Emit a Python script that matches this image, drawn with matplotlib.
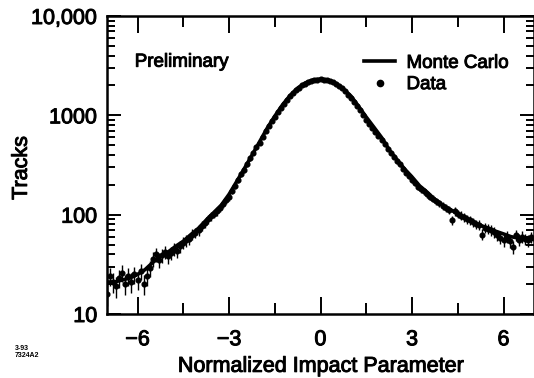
import numpy as np
import matplotlib
matplotlib.use("Agg")
import matplotlib.pyplot as plt
import matplotlib.patheffects as pe
from matplotlib.lines import Line2D
from matplotlib.ticker import FixedLocator, FuncFormatter, LogLocator, NullFormatter

plt.rcParams['font.family'] = ['Liberation Sans', 'DejaVu Sans']

# Monte Carlo curve (every 0.25 in normalized impact parameter)
mc_x = [-7.0, -6.75, -6.5, -6.25, -6.0, -5.75, -5.5, -5.25, -5.0, -4.75,
        -4.5, -4.25, -4.0, -3.75, -3.5, -3.25, -3.0, -2.75, -2.5, -2.25,
        -2.0, -1.75, -1.5, -1.25, -1.0, -0.75, -0.5, -0.25, 0.0, 0.25,
        0.5, 0.75, 1.0, 1.25, 1.5, 1.75, 2.0, 2.25, 2.5, 2.75,
        3.0, 3.25, 3.5, 3.75, 4.0, 4.25, 4.5, 4.75, 5.0, 5.25,
        5.5, 5.75, 6.0, 6.25, 6.5, 6.75, 7.0]
mc_tracks = [21, 21, 22, 23, 25, 28, 33, 38, 42, 48,
             54, 63, 73, 88, 105, 125, 160, 215, 290, 395,
             540, 740, 980, 1270, 1580, 1880, 2120, 2270, 2320, 2270,
             2100, 1850, 1560, 1230, 960, 760, 600, 450, 360, 290,
             240, 195, 168, 142, 125, 113, 102, 92, 84, 78,
             73, 68, 64, 60, 58, 57, 56]

# Data, bins of 0.1 from -7.0 to 6.9
data_x = np.round(np.arange(-7.0, 6.95, 0.1), 2)
data_tracks = [
    16, 24, 21, 19, 23, 26, 20, 24, 21, 25,      # -7.0 .. -6.1
    22, 27, 20, 24, 29, 36, 40, 35, 39, 42,      # -6.0 .. -5.1
    38, 41, 45, 43, 48, 52, 55, 57, 63, 66,      # -5.0 .. -4.1
    70, 77, 82, 90, 96, 102, 108, 118, 128, 140,  # -4.0 .. -3.1
    150, 175, 195, 225, 255, 280, 320, 370, 420, 480,  # -3.0 .. -2.1
    530, 610, 690, 780, 880, 960, 1080, 1190, 1310, 1430,  # -2.0 .. -1.1
    1550, 1670, 1790, 1900, 2000, 2080, 2160, 2230, 2260, 2290,  # -1.0 .. -0.1
    2300, 2280, 2250, 2220, 2150, 2080, 1990, 1880, 1760, 1620,  # 0.0 .. 0.9
    1500, 1370, 1250, 1120, 1010, 900, 820, 740, 680, 620,  # 1.0 .. 1.9
    560, 510, 460, 420, 385, 345, 320, 290, 265, 245,  # 2.0 .. 2.9
    225, 210, 192, 180, 172, 160, 152, 145, 136, 130,  # 3.0 .. 3.9
    122, 118, 112, 88, 108, 102, 98, 94, 90, 88,  # 4.0 .. 4.9
    84, 80, 79, 63, 74, 72, 70, 67, 62, 58,      # 5.0 .. 5.9
    55, 60, 54, 47, 62, 56, 60, 57, 55, 59,      # 6.0 .. 6.9
]
data_err = np.sqrt(data_tracks)

y_labels = {10: '10', 100: '100', 1000: '1000', 10000: '10,000'}

heavy = [pe.withStroke(linewidth=0.7, foreground='black')]

fig = plt.figure(figsize=(5.34, 3.78), dpi=100)
ax = fig.add_axes([107 / 534, 1 - 314 / 378, 427 / 534, 298 / 378])

ax.plot(mc_x, mc_tracks, color='black', lw=2.6, zorder=3)
ax.errorbar(data_x, data_tracks, yerr=data_err, fmt='o', color='black',
            ms=3.4, elinewidth=1.0, capsize=0, zorder=4)

ax.set_yscale('log')
ax.set_xlim(-7, 7)
ax.set_ylim(10, 10000)

ax.xaxis.set_major_locator(FixedLocator([-6, -3, 0, 3, 6]))
ax.xaxis.set_minor_locator(FixedLocator([-4.5, -1.5, 1.5, 4.5]))
ax.yaxis.set_major_locator(LogLocator(base=10))
ax.yaxis.set_minor_locator(LogLocator(base=10, subs=np.arange(2, 10)))
ax.yaxis.set_minor_formatter(NullFormatter())
ax.yaxis.set_major_formatter(FuncFormatter(lambda v, p: y_labels.get(int(round(v)), '')))

ax.tick_params(which='both', direction='in', top=True, right=True,
               width=1.4, labelsize=15.5, colors='black')
ax.tick_params(axis='x', which='major', length=12, pad=11)
ax.tick_params(axis='x', which='minor', length=8)
ax.tick_params(axis='y', which='major', length=10, pad=7)
ax.tick_params(axis='y', which='minor', length=6)
for s in ax.spines.values():
    s.set_linewidth(1.8)
for lbl in ax.get_xticklabels() + ax.get_yticklabels():
    lbl.set_path_effects(heavy)

ax.set_xlabel('Normalized Impact Parameter', fontsize=15.5, labelpad=4,
              path_effects=heavy)
ax.set_ylabel('Tracks', fontsize=15.5, path_effects=heavy)
ax.yaxis.set_label_coords(-0.176, 0.49)

ax.text(0.065, 0.845, 'Preliminary', transform=ax.transAxes, fontsize=13.5,
        va='center', path_effects=heavy)

handles = [Line2D([], [], color='black', lw=2.6),
           Line2D([], [], color='black', ls='none', marker='o', ms=4.5)]
leg = ax.legend(handles, ['Monte Carlo', 'Data'], loc='upper right',
                bbox_to_anchor=(0.94, 0.87), frameon=False,
                fontsize=13.5, handlelength=1.65, handletextpad=0.6,
                labelspacing=0.22, borderpad=0.0, borderaxespad=0.0)
for t in leg.get_texts():
    t.set_path_effects(heavy)

fig.text(0.028, 0.055, '3-93\n7324A2', fontsize=5, fontweight='bold',
         linespacing=1.1)

fig.savefig('out.png', dpi=100)
